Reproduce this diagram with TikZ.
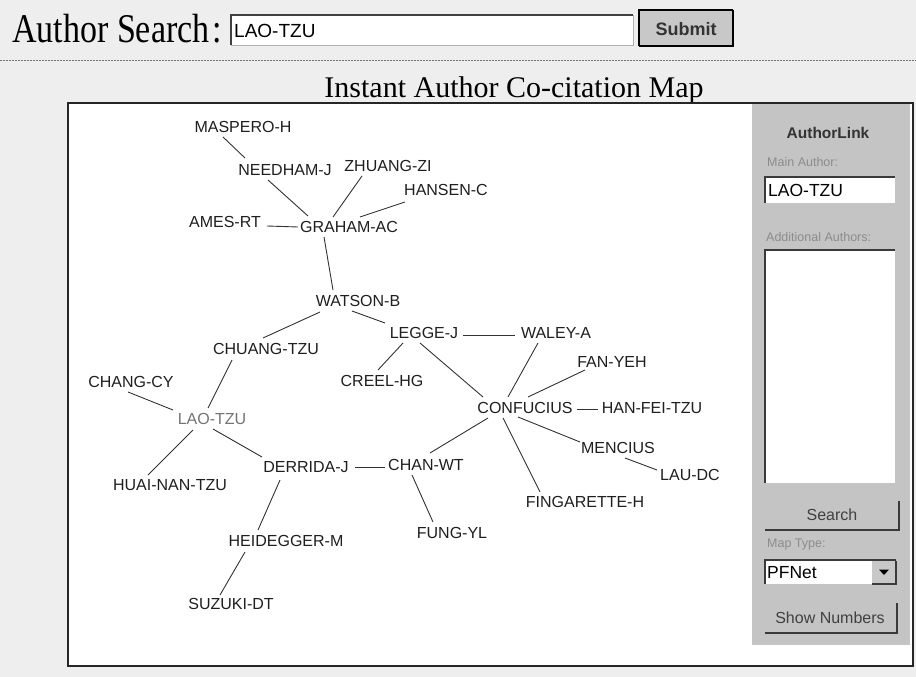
\documentclass[tikz,border=0pt]{standalone}
\usepackage{fontspec}
\setmainfont{Liberation Serif}
\newfontfamily\uisans{Liberation Sans}
\usetikzlibrary{calc}

\definecolor{pagebg}{HTML}{EEEEEE}
\definecolor{panelgray}{HTML}{C4C4C4}
\definecolor{btngray}{HTML}{C8C8C8}
\definecolor{hint}{HTML}{8C8C8C}
\definecolor{rimdark}{HTML}{3A3A3A}

% connector between two authors, each end given as an offset from the label centre
\newcommand\cmlink[4]{\draw[link] ($(#1)+(#2)$) -- ($(#3)+(#4)$);}

\begin{document}
\begin{tikzpicture}[x=1pt,y=-1pt,
  author/.style={font=\uisans\fontsize{16}{18}\selectfont, inner sep=0pt, anchor=center, text=black!88},
  mainauthor/.style={author, text=black!55},
  link/.style={line width=0.9pt, black!80},
  hinttext/.style={font=\uisans\fontsize{12.5}{14}\selectfont, text=hint, anchor=west, inner sep=0pt},
  fieldtext/.style={font=\uisans\fontsize{17.5}{20}\selectfont, anchor=west, inner sep=0pt},
  btntext/.style={font=\uisans\fontsize{16}{18}\selectfont, text=black!75, inner sep=0pt},
  insetrim/.style={rimdark, line width=1.6pt},
  outsetrim/.style={rimdark, line width=1.6pt},
]
\useasboundingbox (0,0) rectangle (916,677);
\fill[pagebg] (0,0) rectangle (916,677);

% ---- search bar ----
\node[anchor=base west, inner sep=0pt, font=\fontsize{34}{40}\selectfont] (lbl) at (12,43) {\scalebox{1}[1.2]{Author Search\kern3pt:}};
\fill[white] (231,15) rectangle (633,45);
\draw[gray!60, line width=0.8pt] (633,15) -- (633,45) -- (231,45);
\draw[black!75, line width=1.4pt] (231,45) -- (231,15) -- (633,15);
\node[font=\uisans\fontsize{19}{22}\selectfont, anchor=west, inner sep=0pt] (query) at (234,31) {LAO-TZU};
\fill[btngray] (639,10) rectangle (733,46);
\draw[black, line width=1.2pt] (639,46) -- (639,10) -- (733,10);
\draw[black, line width=2pt] (733,10) -- (733,46) -- (639,46);
\node[font=\uisans\bfseries\fontsize{18}{20}\selectfont, text=black!80, inner sep=0pt] (submit) at (686,29) {Submit};

% separator rule
\draw[black!55, line width=1.2pt, dash pattern=on 2pt off 1pt] (0,60.5) -- (916,60.5);

% ---- map heading and frame ----
\node[anchor=base, inner sep=0pt, font=\fontsize{30}{34}\selectfont] (heading) at (514,98) {Instant Author Co-citation Map};
\fill[white] (68,103) rectangle (913,666);
\draw[black!85, line width=1.5pt] (68,103) rectangle (913,666);

% ---- AuthorLink side panel ----
\fill[panelgray] (752,104) rectangle (910,645);
\node[font=\uisans\bfseries\fontsize{15.5}{18}\selectfont, text=black!80, inner sep=0pt] (plink) at (828,133) {AuthorLink};
\node[hinttext] (pmainlbl) at (767,162) {Main Author:};
\fill[white] (765,177) rectangle (895,203);
\draw[insetrim] (765,203) -- (765,177) -- (895,177);
\node[fieldtext] (pmain) at (768,190.5) {LAO-TZU};
\node[hinttext] (paddlbl) at (766,237) {Additional Authors:};
\fill[white] (765,250) rectangle (895,483);
\draw[insetrim] (765,483) -- (765,250) -- (895,250);
% Search button
\draw[outsetrim] (899,501) -- (899,530) -- (765,530);
\node[btntext] (psearch) at (832,515) {Search};
\node[hinttext] (pmaplbl) at (767,544) {Map Type:};
% map type drop-down
\fill[white] (765,560) rectangle (896,584);
\fill[btngray] (872,561) rectangle (895,583);
\draw[insetrim] (765,584) -- (765,560) -- (896,560);
\draw[rimdark, line width=1.2pt] (872,584) -- (896,584) -- (896,561);
\fill[black] (879,569.5) -- (889,569.5) -- (884,575) -- cycle;
\node[fieldtext] (ptype) at (767,573) {PFNet};
% Show Numbers button
\draw[outsetrim] (897,603) -- (897,633) -- (765,633);
\node[btntext] (pnums) at (830,618) {Show Numbers};

% ---- authors ----
\node[author] (mas) at (243,127) {MASPERO-H};
\node[author] (nee) at (285,170) {NEEDHAM-J};
\node[author] (zhu) at (388,166) {ZHUANG-ZI};
\node[author] (han) at (446,190) {HANSEN-C};
\node[author] (ame) at (225,222) {AMES-RT};
\node[author] (gra) at (349,227) {GRAHAM-AC};
\node[author] (wat) at (358,301) {WATSON-B};
\node[author] (chu) at (266,349) {CHUANG-TZU};
\node[author] (leg) at (424,333) {LEGGE-J};
\node[author] (wal) at (556,333) {WALEY-A};
\node[author] (cre) at (382,381) {CREEL-HG};
\node[author] (fan) at (612,362) {FAN-YEH};
\node[author] (cyy) at (131,382) {CHANG-CY};
\node[mainauthor] (lao) at (212,419) {LAO-TZU};
\node[author] (con) at (525,408) {CONFUCIUS};
\node[author] (hft) at (652,408) {HAN-FEI-TZU};
\node[author] (men) at (618,448) {MENCIUS};
\node[author] (lau) at (690,475) {LAU-DC};
\node[author] (hua) at (170,485) {HUAI-NAN-TZU};
\node[author] (der) at (306,467) {DERRIDA-J};
\node[author] (cwt) at (426,465) {CHAN-WT};
\node[author] (fin) at (585,502) {FINGARETTE-H};
\node[author] (fun) at (452,533) {FUNG-YL};
\node[author] (hei) at (286,541) {HEIDEGGER-M};
\node[author] (suz) at (231,604) {SUZUKI-DT};

% ---- co-citation links ----
\cmlink{mas}{-20,10}{nee}{-40,-12}
\cmlink{nee}{-17,10}{gra}{-41,-11}
\cmlink{zhu}{-26,10}{gra}{-16,-10}
\cmlink{han}{-41,12}{gra}{11,-10}
\cmlink{ame}{42,4}{gra}{-51,0}
\cmlink{gra}{-25,10}{wat}{-25,-11}
\cmlink{wat}{-38,11}{chu}{-3,-11}
\cmlink{wat}{-6,10}{leg}{-39,-10}
\cmlink{leg}{39,2}{wal}{-41,2}
\cmlink{leg}{-21,10}{cre}{-4,-11}
\cmlink{leg}{-4,10}{con}{-42,-11}
\cmlink{wal}{-18,10}{con}{-17,-11}
\cmlink{fan}{-27,8}{con}{3,-11}
\cmlink{con}{52,1}{hft}{-54,1}
\cmlink{con}{-7,9}{men}{-38,-6}
\cmlink{con}{-22,10}{fin}{-45,-10}
\cmlink{con}{-37,10}{cwt}{4,-12}
\cmlink{men}{7,10}{lau}{-33,-5}
\cmlink{cwt}{-14,10}{fun}{-19,-11}
\cmlink{der}{49,0}{cwt}{-41,2}
\cmlink{chu}{-34,11}{lao}{-4,-11}
\cmlink{cyy}{-3,10}{lao}{-39,-9}
\cmlink{lao}{-19,11}{hua}{-22,-10}
\cmlink{lao}{1,10}{der}{-44,-10}
\cmlink{der}{-26,13}{hei}{-28,-11}
\cmlink{hei}{-41,11}{suz}{-11,-9}
\end{tikzpicture}
\end{document}
